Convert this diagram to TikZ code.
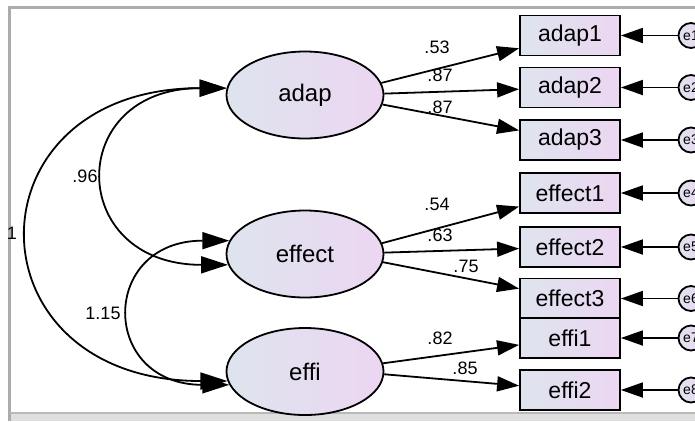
\documentclass[tikz,border=0pt]{standalone}
\usepackage{fontspec}
\setmainfont{Liberation Sans}
\usetikzlibrary{shapes.geometric,arrows.meta}
\definecolor{fillL}{RGB}{222,228,238}
\definecolor{fillR}{RGB}{236,214,242}

\begin{document}
\begin{tikzpicture}[x=1pt,y=-1pt,
  lat/.style={ellipse,draw,line width=1.8pt,left color=fillL,right color=fillR,minimum width=157pt,minimum height=87pt,inner sep=0pt,font=\fontsize{24}{27}\selectfont},
  obs/.style={rectangle,draw,line width=1.8pt,left color=fillL,right color=fillR,minimum width=100pt,minimum height=40pt,inner sep=0pt,font=\fontsize{23}{26}\selectfont},
  err/.style={circle,draw,line width=1.8pt,left color=fillL,right color=fillR,minimum size=25pt,inner sep=0pt,font=\fontsize{14}{16}\selectfont},
  load/.style={line width=1.8pt,-{Triangle[length=22pt,width=15pt]}},
  cov/.style={line width=1.8pt,{Triangle[length=27pt,width=17pt]}-{Triangle[length=27pt,width=17pt]}},
  lbl/.style={font=\fontsize{18}{20}\selectfont}]
			\clip (0,0) rectangle (695,421);
			\fill[white] (0,0) rectangle (695,421);
			\fill[gray!25] (8,413) rectangle (695,421);
			\draw[gray!65,line width=3pt] (700,7) -- (9.5,7) -- (9.5,421);
			\draw[gray!55,line width=2pt] (9.5,413) -- (700,413);
			\node[lat] (adap) at (305,95) {adap};
			\node[lat] (effect) at (305,254) {effect};
			\node[lat] (effi) at (305,371.5) {effi};
			\foreach \name/\y/\e in {adap1/35.5/e1, adap2/87.5/e2, adap3/140/e3, effect1/193/e4, effect2/247/e5, effect3/298.5/e6, effi1/338/e7, effi2/390/e8} {
				\node[obs] (\name) at (570,\y) {\name};
				\node[err] (\e) at (691,\y) {\e};
				\draw[load] (\e) -- (\name);
			}
			\draw[load] (adap.9) -- (adap1);
			\draw[load] (adap.1) -- (adap2);
			\draw[load] (adap.-7) -- (adap3);
			\draw[load] (effect.8) -- (effect1);
			\draw[load] (effect.1) -- (effect2);
			\draw[load] (effect.-6) -- (effect3);
			\draw[load] (effi.6) -- (effi1);
			\draw[load] (effi.-2) -- (effi2);
			\draw[cov] (adap.175) .. controls +(-262,0) and +(-262,0) .. (effi.187);
			\draw[cov] (adap.175) .. controls +(-162,0) and +(-162,0) .. (effect.188);
			\draw[cov] (effect.170) .. controls +(-130,0) and +(-130,0) .. (effi.190);
			\node[lbl] (l1) at (437,47) {.53};
			\node[lbl] (l2) at (440,75) {.87};
			\node[lbl] (l3) at (440,107) {.87};
			\node[lbl] (l4) at (437,204) {.54};
			\node[lbl] (l5) at (440,235) {.63};
			\node[lbl] (l6) at (466,266) {.75};
			\node[lbl] (l7) at (440,338) {.82};
			\node[lbl] (l8) at (465,368) {.85};
			\node[lbl] (c1) at (85,176) {.96};
			\node[lbl] (c2) at (103,313) {1.15};
			\node[lbl] (c3) at (12,233) {1};
		\end{tikzpicture}
\end{document}
